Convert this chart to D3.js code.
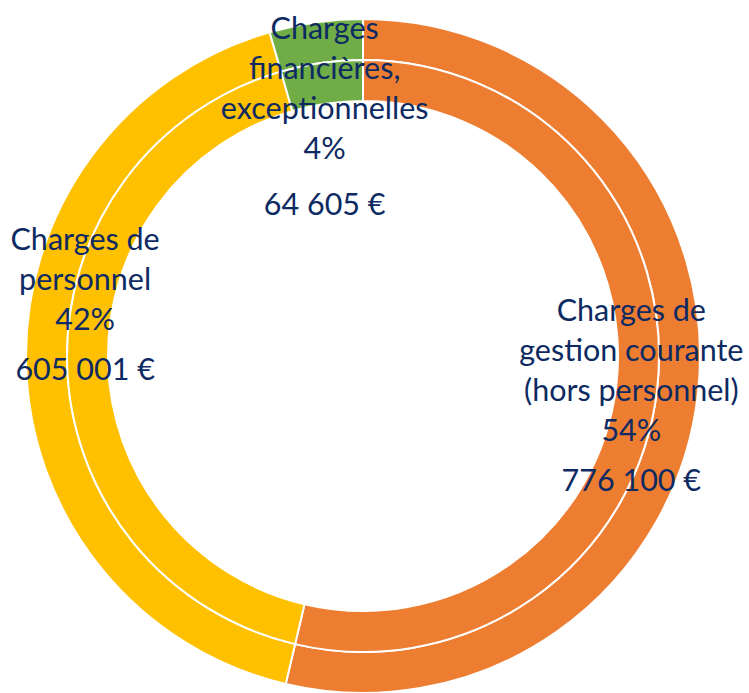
<!DOCTYPE html>
<html>
<head>
<meta charset="utf-8">
<script src="https://cdn.jsdelivr.net/npm/d3@7"></script>
<style>
  html, body { margin: 0; padding: 0; background: #ffffff; }
  svg { display: block; }
</style>
</head>
<body>
<svg id="chart" width="749" height="693"></svg>
<script>
// ---- data ----
const categories = [
  ["Charges de", "gestion courante", "(hors personnel)"],
  ["Charges de", "personnel"],
  ["Charges", "financières,", "exceptionnelles"]
];
const values = [776100, 605001, 64605];
const colors = ["#ED7D31", "#FFC000", "#70AD47"];

// ---- layout ----
const W = 749, H = 693;
const cx = 363, cy = 356;
const rOuter = 337, rMid = 296, rInner = 255;
const fontFamily = "Lato, 'Open Sans', sans-serif";
const fontSize = 30.5;
const lineH = 40;
// label placement: radius and angle shift (deg) relative to slice mid-angle, plus gap before value line
const labelLayout = [
  { r: 271, shift: 1.4, gap: 50 },
  { r: 283, shift: 12.3, gap: 50 },
  { r: 244, shift: -1.0, gap: 56 }
];

const svg = d3.select("#chart");
const g = svg.append("g").attr("transform", `translate(${cx},${cy})`);

const total = d3.sum(values);
const pie = d3.pie().sort(null).value(d => d)(values);

const rings = [[rMid, rOuter], [rInner, rMid]];
rings.forEach(([ri, ro]) => {
  const arc = d3.arc().innerRadius(ri).outerRadius(ro);
  g.append("g").selectAll("path")
    .data(pie)
    .join("path")
    .attr("d", arc)
    .attr("fill", (d, i) => colors[i])
    .attr("stroke", "#ffffff")
    .attr("stroke-width", 2)
    .attr("stroke-linejoin", "round");
});

const fmtEuro = v => d3.format(",")(v).replace(/,/g, "\u00a0") + " \u20ac";
const fmtPct = v => Math.round(v * 100) + "%";

pie.forEach((d, i) => {
  const L = labelLayout[i];
  const a = (d.startAngle + d.endAngle) / 2 + L.shift * Math.PI / 180;
  const px = L.r * Math.sin(a), py = -L.r * Math.cos(a);
  const lines = categories[i].concat([fmtPct(values[i] / total)]);
  const blockH = (lines.length - 1) * lineH + L.gap;
  const y0 = py - blockH / 2;
  const t = g.append("g").attr("class", "label");
  lines.forEach((s, k) => {
    t.append("text")
      .attr("x", px).attr("y", y0 + k * lineH)
      .attr("text-anchor", "middle")
      .attr("dominant-baseline", "central")
      .attr("font-family", fontFamily)
      .attr("font-size", fontSize)
      .attr("fill", "#0d2a62")
      .text(s);
  });
  t.append("text")
    .attr("x", px).attr("y", y0 + (lines.length - 1) * lineH + L.gap)
    .attr("text-anchor", "middle")
    .attr("dominant-baseline", "central")
    .attr("font-family", fontFamily)
    .attr("font-size", fontSize)
    .attr("fill", "#0d2a62")
    .text(fmtEuro(values[i]));
});
</script>
</body>
</html>
